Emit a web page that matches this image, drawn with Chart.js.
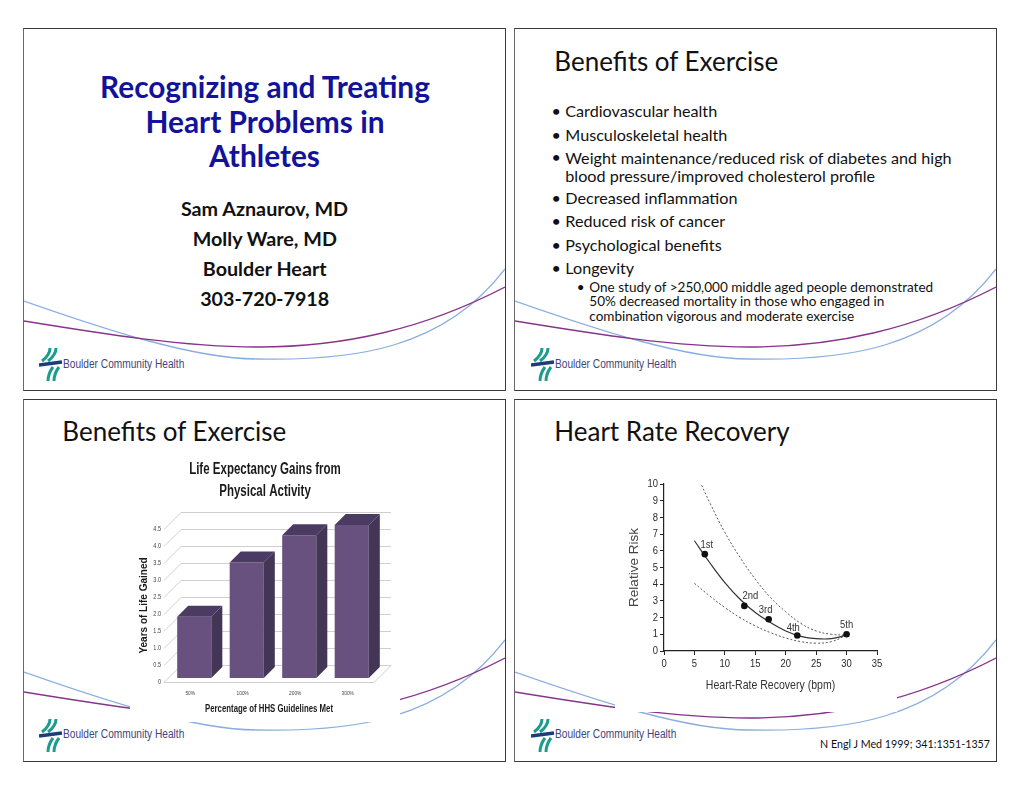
<!DOCTYPE html>
<html><head><meta charset="utf-8">
<script src="https://cdn.jsdelivr.net/npm/chart.js@4.4.1/dist/chart.umd.min.js"></script>
<style>
html,body{margin:0;padding:0;background:#fff;width:1020px;height:788px;overflow:hidden}
.panel{position:absolute;width:481px;height:361px;border:1px solid #3a3a3a;border-left-color:#6a6a6a;overflow:hidden;background:#fff}
.panel svg.sw{position:absolute;left:0;top:0}
.t{position:absolute;white-space:nowrap;line-height:0.9;font-family:Lato,'Open Sans',sans-serif;color:#111;z-index:5}
.logo{position:absolute;z-index:5}
canvas{position:absolute;background:#fff;z-index:3}
</style></head>
<body>
<div class="panel" style="left:23px;top:28px"></div>
<div class="panel" style="left:514px;top:28px"></div>
<div class="panel" style="left:23px;top:399px"></div>
<div class="panel" style="left:514px;top:399px"></div>

<!-- top-left slide -->
<div class="t" data-g="h0" data-w="330" data-x="265" data-cy="88.7" data-a="c" style="font-weight:700;color:#12129a">Recognizing and Treating</div>
<div class="t" data-g="h0" data-x="265" data-cy="123.3" data-a="c" style="font-weight:700;color:#12129a">Heart Problems in</div>
<div class="t" data-g="h0" data-x="264.5" data-cy="157" data-a="c" style="font-weight:700;color:#12129a">Athletes</div>
<div class="t" data-g="au" data-w="167.3" data-x="264.5" data-cy="209.7" data-a="c" style="font-weight:700">Sam Aznaurov, MD</div>
<div class="t" data-g="au" data-x="264.8" data-cy="239.3" data-a="c" style="font-weight:700">Molly Ware, MD</div>
<div class="t" data-g="au" data-x="264.7" data-cy="269.3" data-a="c" style="font-weight:700">Boulder Heart</div>
<div class="t" data-g="au" data-x="264.7" data-cy="299" data-a="c" style="font-weight:700">303-720-7918</div>

<!-- top-right slide -->
<div class="t" data-g="h1" data-w="224" data-x="554.3" data-cy="62.5" data-a="l">Benefits of Exercise</div>
<div class="t" data-g="b" data-x="556.3" data-cy="112" data-a="c">•</div>
<div class="t" data-g="b" data-x="565.3" data-cy="112" data-a="l">Cardiovascular health</div>
<div class="t" data-g="b" data-x="556.3" data-cy="135.3" data-a="c">•</div>
<div class="t" data-g="b" data-x="565.3" data-cy="135.3" data-a="l">Musculoskeletal health</div>
<div class="t" data-g="b" data-x="556.3" data-cy="158.2" data-a="c">•</div>
<div class="t" data-g="b" data-w="386.7" data-lh="18.4" data-x="565.3" data-cy="158.2" data-a="l">Weight maintenance/reduced risk of diabetes and high<br>blood pressure/improved cholesterol profile</div>
<div class="t" data-g="b" data-x="556.3" data-cy="198.7" data-a="c">•</div>
<div class="t" data-g="b" data-x="565.3" data-cy="198.7" data-a="l">Decreased inflammation</div>
<div class="t" data-g="b" data-x="556.3" data-cy="222" data-a="c">•</div>
<div class="t" data-g="b" data-x="565.3" data-cy="222" data-a="l">Reduced risk of cancer</div>
<div class="t" data-g="b" data-x="556.3" data-cy="245.3" data-a="c">•</div>
<div class="t" data-g="b" data-x="565.3" data-cy="245.3" data-a="l">Psychological benefits</div>
<div class="t" data-g="b" data-x="556.3" data-cy="268.7" data-a="c">•</div>
<div class="t" data-g="b" data-x="565.3" data-cy="268.7" data-a="l">Longevity</div>
<div class="t" data-g="s" data-x="580.8" data-cy="287.7" data-a="c">•</div>
<div class="t" data-g="s" data-w="344" data-lh="14.6" data-x="589.3" data-cy="287.5" data-a="l">One study of &gt;250,000 middle aged people demonstrated<br>50% decreased mortality in those who engaged in<br>combination vigorous and moderate exercise</div>

<!-- bottom slides -->
<div class="t" data-g="h1" data-x="62.3" data-cy="432.5" data-a="l">Benefits of Exercise</div>
<div class="t" data-g="h1" data-x="554.3" data-cy="432.5" data-a="l">Heart Rate Recovery</div>
<div class="t" data-g="c" data-w="170" data-x="990" data-cy="743.7" data-a="r">N Engl J Med 1999; 341:1351-1357</div>

<!-- logo texts (fixed size, squeezed horizontally) -->
<div class="t lgt" data-w="121.3" data-fs="12.5" data-x="63.3" data-cy="365.3" style="font-family:'Liberation Sans',Arial,sans-serif;color:#43467a">Boulder Community Health</div>
<div class="t lgt" data-w="121.3" data-fs="12.5" data-x="555.3" data-cy="365.3" style="font-family:'Liberation Sans',Arial,sans-serif;color:#43467a">Boulder Community Health</div>
<div class="t lgt" data-w="121.3" data-fs="12.5" data-x="63.3" data-cy="735.7" style="font-family:'Liberation Sans',Arial,sans-serif;color:#43467a">Boulder Community Health</div>
<div class="t lgt" data-w="121.3" data-fs="12.5" data-x="555.3" data-cy="735.7" style="font-family:'Liberation Sans',Arial,sans-serif;color:#43467a">Boulder Community Health</div>

<canvas id="bars" width="270" height="268" style="left:130px;top:454px"></canvas>
<canvas id="hrr" width="282" height="254" style="left:615px;top:458px"></canvas>

<script>
// ---------- chart data ----------
const barCategories = ['50%', '100%', '200%', '300%'];
const yearsGained = [1.8, 3.4, 4.2, 4.5];

const quintileLabels = ['1st', '2nd', '3rd', '4th', '5th'];
const quintileHRR = [6.7, 13.2, 17.2, 21.9, 30.0];
const quintileRisk = [5.8, 2.7, 1.9, 0.93, 1.0];

const fitHRR = [5, 7.5, 10, 12.5, 15, 17.5, 20, 22.5, 25, 27.5, 30];
const fitRisk = [6.6, 5.3, 4.1, 3.1, 2.3, 1.7, 1.2, 0.88, 0.74, 0.74, 0.95];

const upperHRR = [5.9, 7.5, 10, 12.5, 15, 17.5, 20, 22.5, 25, 27.5, 30];
const upperRisk = [10.15, 8.9, 7.1, 5.6, 4.3, 3.2, 2.35, 1.65, 1.2, 1.0, 0.95];

const lowerHRR = [5, 7.5, 10, 12.5, 15, 17.5, 20, 22.5, 25, 27.5, 30];
const lowerRisk = [4.05, 3.3, 2.6, 2.0, 1.5, 1.1, 0.78, 0.56, 0.47, 0.56, 0.95];

// ---------- decorative slide swooshes + logo ----------
const NS = 'http://www.w3.org/2000/svg';
document.querySelectorAll('.panel').forEach(p => {
  p.insertAdjacentHTML('beforeend',
    '<svg class="sw" width="481" height="361" xmlns="' + NS + '">' +
    '<path d="M0 272 C 80 300, 170 330, 234 330 C 330 332, 420 320, 481 240" fill="none" stroke="#8aaedf" stroke-width="1.3"/>' +
    '<path d="M0 292 C 80 305, 160 318, 234 318 C 320 318, 400 300, 481 258" fill="none" stroke="#86348a" stroke-width="1.3"/>' +
    '</svg>');
});
const logoPos = [[39, 348], [531, 348], [39, 719], [531, 719]];
logoPos.forEach(([x, y]) => {
  document.body.insertAdjacentHTML('beforeend',
    '<svg class="logo" style="left:' + x + 'px;top:' + y + 'px" width="24" height="33" xmlns="' + NS + '">' +
    '<path d="M11 0 C 11 6, 7 10, 3 13" fill="none" stroke="#1c9c8c" stroke-width="3"/>' +
    '<path d="M17 0 C 17 6, 13 10, 9 13" fill="none" stroke="#1c9c8c" stroke-width="3"/>' +
    '<path d="M0 17 L 23 14" fill="none" stroke="#1d3d7a" stroke-width="3.5"/>' +
    '<path d="M14 19 C 11 23, 9 27, 9 33" fill="none" stroke="#1c9c8c" stroke-width="3"/>' +
    '<path d="M20 19 C 17 23, 15 27, 15 33" fill="none" stroke="#1c9c8c" stroke-width="3"/>' +
    '</svg>');
});

// ---------- text fitting ----------
(function fitTexts() {
  const els = Array.from(document.querySelectorAll('.t'));
  const groups = {};
  els.forEach(el => {
    if (el.classList.contains('lgt')) {
      const fs = parseFloat(el.dataset.fs);
      el.style.fontSize = fs + 'px';
      const r = el.getBoundingClientRect();
      const sx = parseFloat(el.dataset.w) / r.width;
      el.style.transformOrigin = '0 50%';
      el.style.transform = 'scaleX(' + sx + ')';
      el.style.left = el.dataset.x + 'px';
      el.style.top = (parseFloat(el.dataset.cy) - r.height / 2 - 0.05 * fs) + 'px';
      return;
    }
    (groups[el.dataset.g] = groups[el.dataset.g] || []).push(el);
  });
  Object.values(groups).forEach(list => {
    const ref = list.find(e => e.dataset.w) || list[0];
    ref.style.fontSize = '100px';
    const w = ref.getBoundingClientRect().width;
    const fs = 100 * parseFloat(ref.dataset.w) / w;
    list.forEach(el => {
      el.style.fontSize = fs + 'px';
      let lineBox;
      if (el.dataset.lh) {
        el.style.lineHeight = el.dataset.lh + 'px';
        lineBox = parseFloat(el.dataset.lh);
      }
      const r = el.getBoundingClientRect();
      if (!lineBox) lineBox = r.height;
      const x = parseFloat(el.dataset.x), cy = parseFloat(el.dataset.cy);
      let left = x;
      if (el.dataset.a === 'c') left = x - r.width / 2;
      if (el.dataset.a === 'r') left = x - r.width;
      el.style.left = left + 'px';
      el.style.top = (cy - lineBox / 2 - 0.03 * fs) + 'px';
    });
  });
})();

// ---------- charts ----------
Chart.defaults.color = '#333';
const SANS = "'Liberation Sans',Arial,sans-serif";

// draws the text of a chart part narrower (condensed type as in the original figure)
function squeezeDuring(ctx, fn, f) {
  const orig = ctx.fillText;
  ctx.fillText = function (t, x, y) {
    this.save(); this.translate(x, y); this.scale(f, 1); orig.call(this, t, 0, 0); this.restore();
  };
  try { return fn(); } finally { ctx.fillText = orig; }
}
const squeeze = {
  id: 'squeeze',
  afterLayout(chart, args, o) {
    const ctx = chart.ctx;
    const wrap = (obj, name, f) => {
      if (!obj || !f || obj['_sq_' + name]) return;
      const orig = obj[name];
      obj[name] = function (...a) { return squeezeDuring(ctx, () => orig.apply(this, a), f); };
      obj['_sq_' + name] = true;
    };
    wrap(chart.titleBlock, 'draw', o.title);
    (o.axes || []).forEach(([id, titleF, labelF]) => {
      wrap(chart.scales[id], 'drawTitle', titleF);
      wrap(chart.scales[id], 'drawLabels', labelF);
    });
  }
};

const bar3d = {
  id: 'bar3d',
  beforeDatasetsDraw(chart, args, o) {
    const {ctx, chartArea: {left, right}, scales: {y}} = chart;
    const D = o.wallDepth;
    ctx.save();
    ctx.strokeStyle = o.gridColor;
    ctx.lineWidth = 1;
    y.ticks.forEach(t => {
      const py = Math.round(y.getPixelForValue(t.value)) + 0.5;
      ctx.beginPath();
      ctx.moveTo(left, py);
      ctx.lineTo(left + D, py - D);
      ctx.lineTo(right + D, py - D);
      ctx.stroke();
    });
    const p0 = Math.round(y.getPixelForValue(0)) + 0.5;
    ctx.beginPath();
    ctx.moveTo(left, p0);
    ctx.lineTo(right, p0);
    ctx.lineTo(right + D, p0 - D);
    ctx.stroke();
    ctx.restore();
    ctx.save();
    ctx.translate(o.shift, -o.shift);
  },
  afterDatasetsDraw(chart, args, o) {
    const ctx = chart.ctx;
    ctx.restore();
    const d = o.barDepth, s = o.shift;
    chart.getDatasetMeta(0).data.forEach(bar => {
      const {x, y, base, width} = bar.getProps(['x', 'y', 'base', 'width'], true);
      const x0 = x - width / 2 + s, x1 = x + width / 2 + s, yt = y - s, yb = base - s;
      ctx.fillStyle = o.topColor;
      ctx.beginPath();
      ctx.moveTo(x0, yt); ctx.lineTo(x1, yt); ctx.lineTo(x1 + d, yt - d); ctx.lineTo(x0 + d, yt - d);
      ctx.closePath(); ctx.fill();
      ctx.fillStyle = o.sideColor;
      ctx.beginPath();
      ctx.moveTo(x1, yt); ctx.lineTo(x1 + d, yt - d); ctx.lineTo(x1 + d, yb - d); ctx.lineTo(x1, yb);
      ctx.closePath(); ctx.fill();
    });
  }
};

new Chart(document.getElementById('bars'), {
  type: 'bar',
  data: {
    labels: barCategories,
    datasets: [{
      data: yearsGained,
      backgroundColor: '#68517f',
      borderWidth: 0,
      barPercentage: 0.65,
      categoryPercentage: 1
    }]
  },
  options: {
    responsive: false, animation: false, devicePixelRatio: 1,
    layout: {padding: {left: 0, right: 0, top: 0, bottom: 0}},
    plugins: {
      legend: {display: false},
      tooltip: {enabled: false},
      title: {
        display: true,
        text: ['Life Expectancy Gains from', 'Physical Activity'],
        color: '#1a1a1a',
        font: {family: SANS, size: 16, weight: 'bold', lineHeight: 1.375},
        padding: {top: 5, bottom: 26}
      },
      squeeze: {title: 0.72, axes: [['x', 0.71, 0.8], ['y', null, 0.85]]},
      bar3d: {wallDepth: 17, barDepth: 11, shift: 4, gridColor: '#cfcfcf', topColor: '#4b3b63', sideColor: '#433556'}
    },
    scales: {
      x: {
        grid: {display: false, drawTicks: false},
        border: {display: false},
        ticks: {font: {family: SANS, size: 6}, color: '#444', padding: 8},
        title: {display: true, text: 'Percentage of HHS Guidelines Met', color: '#1a1a1a',
                font: {family: SANS, size: 11, weight: 'bold'}, padding: {top: 0, bottom: 6}},
        afterFit(s) { s.height = 40; }
      },
      y: {
        min: 0, max: 4.5,
        grid: {display: false, drawTicks: false},
        border: {display: false},
        ticks: {stepSize: 0.5, autoSkip: false, font: {family: SANS, size: 6.5}, color: '#444', padding: 3},
        title: {display: true, text: 'Years of Life Gained', color: '#1a1a1a',
                font: {family: SANS, size: 10, weight: 'bold'}, padding: {top: 8, bottom: 0}},
        afterFit(s) { s.width = 34; }
      },
      yPad: {
        position: 'right', display: true,
        grid: {display: false, drawTicks: false}, border: {display: false},
        ticks: {display: false},
        afterFit(s) { s.width = 26; }
      }
    }
  },
  plugins: [squeeze, bar3d]
});

const pointLabels = {
  id: 'pointLabels',
  afterDatasetsDraw(chart, args, o) {
    const ctx = chart.ctx;
    const meta = chart.getDatasetMeta(0);
    ctx.save();
    ctx.font = o.font;
    ctx.fillStyle = o.color;
    ctx.textAlign = 'center';
    ctx.textBaseline = 'middle';
    meta.data.forEach((pt, i) => {
      const [dx, dy] = o.offsets[i];
      ctx.save();
      ctx.translate(pt.x + dx, pt.y + dy);
      ctx.scale(o.squeeze, 1);
      ctx.fillText(quintileLabels[i], 0, 0);
      ctx.restore();
    });
    ctx.restore();
  }
};

const toXY = (xs, ys) => xs.map((x, i) => ({x: x, y: ys[i]}));

new Chart(document.getElementById('hrr'), {
  type: 'scatter',
  data: {
    datasets: [
      {data: toXY(quintileHRR, quintileRisk), pointRadius: 3.3, pointBackgroundColor: '#111', pointBorderWidth: 0, showLine: false},
      {data: toXY(fitHRR, fitRisk), showLine: true, pointRadius: 0, borderColor: '#333', borderWidth: 1.2, tension: 0.4, fill: false},
      {data: toXY(upperHRR, upperRisk), showLine: true, pointRadius: 0, borderColor: '#555', borderWidth: 1, borderDash: [2, 2], tension: 0.4, fill: false},
      {data: toXY(lowerHRR, lowerRisk), showLine: true, pointRadius: 0, borderColor: '#555', borderWidth: 1, borderDash: [2, 2], tension: 0.4, fill: false}
    ]
  },
  options: {
    responsive: false, animation: false, devicePixelRatio: 1,
    layout: {padding: {left: 0, right: 20, top: 26, bottom: 0}},
    plugins: {
      legend: {display: false},
      tooltip: {enabled: false},
      squeeze: {axes: [['x', 0.81, 0.82], ['y', null, 0.82]]},
      pointLabels: {font: "11.5px " + SANS, color: '#333', squeeze: 0.82,
                    offsets: [[2, -9.5], [6, -10], [-3, -9], [-4, -8], [0, -9]]}
    },
    scales: {
      x: {
        type: 'linear', min: 0, max: 35,
        grid: {display: true, drawOnChartArea: false, drawTicks: true, tickLength: 4, color: '#222'},
        border: {display: true, color: '#222', width: 1.2},
        ticks: {stepSize: 5, autoSkip: false, font: {family: SANS, size: 11.5}, color: '#2a2a2a', padding: 2},
        title: {display: true, text: 'Heart-Rate Recovery (bpm)', color: '#333',
                font: {family: SANS, size: 13}, padding: {top: 0, bottom: 19}},
        afterFit(s) { s.height = 61; }
      },
      y: {
        min: 0, max: 10,
        grid: {display: true, drawOnChartArea: false, drawTicks: true, tickLength: 4, color: '#222'},
        border: {display: true, color: '#222', width: 1.2},
        ticks: {stepSize: 1, autoSkip: false, font: {family: SANS, size: 11.5}, color: '#2a2a2a', padding: 2},
        title: {display: true, text: 'Relative Risk', color: '#444',
                font: {family: SANS, size: 13.5}, padding: {top: 11, bottom: 0}},
        afterFit(s) { s.width = 49; }
      }
    }
  },
  plugins: [squeeze, pointLabels]
});
</script>
</body></html>
